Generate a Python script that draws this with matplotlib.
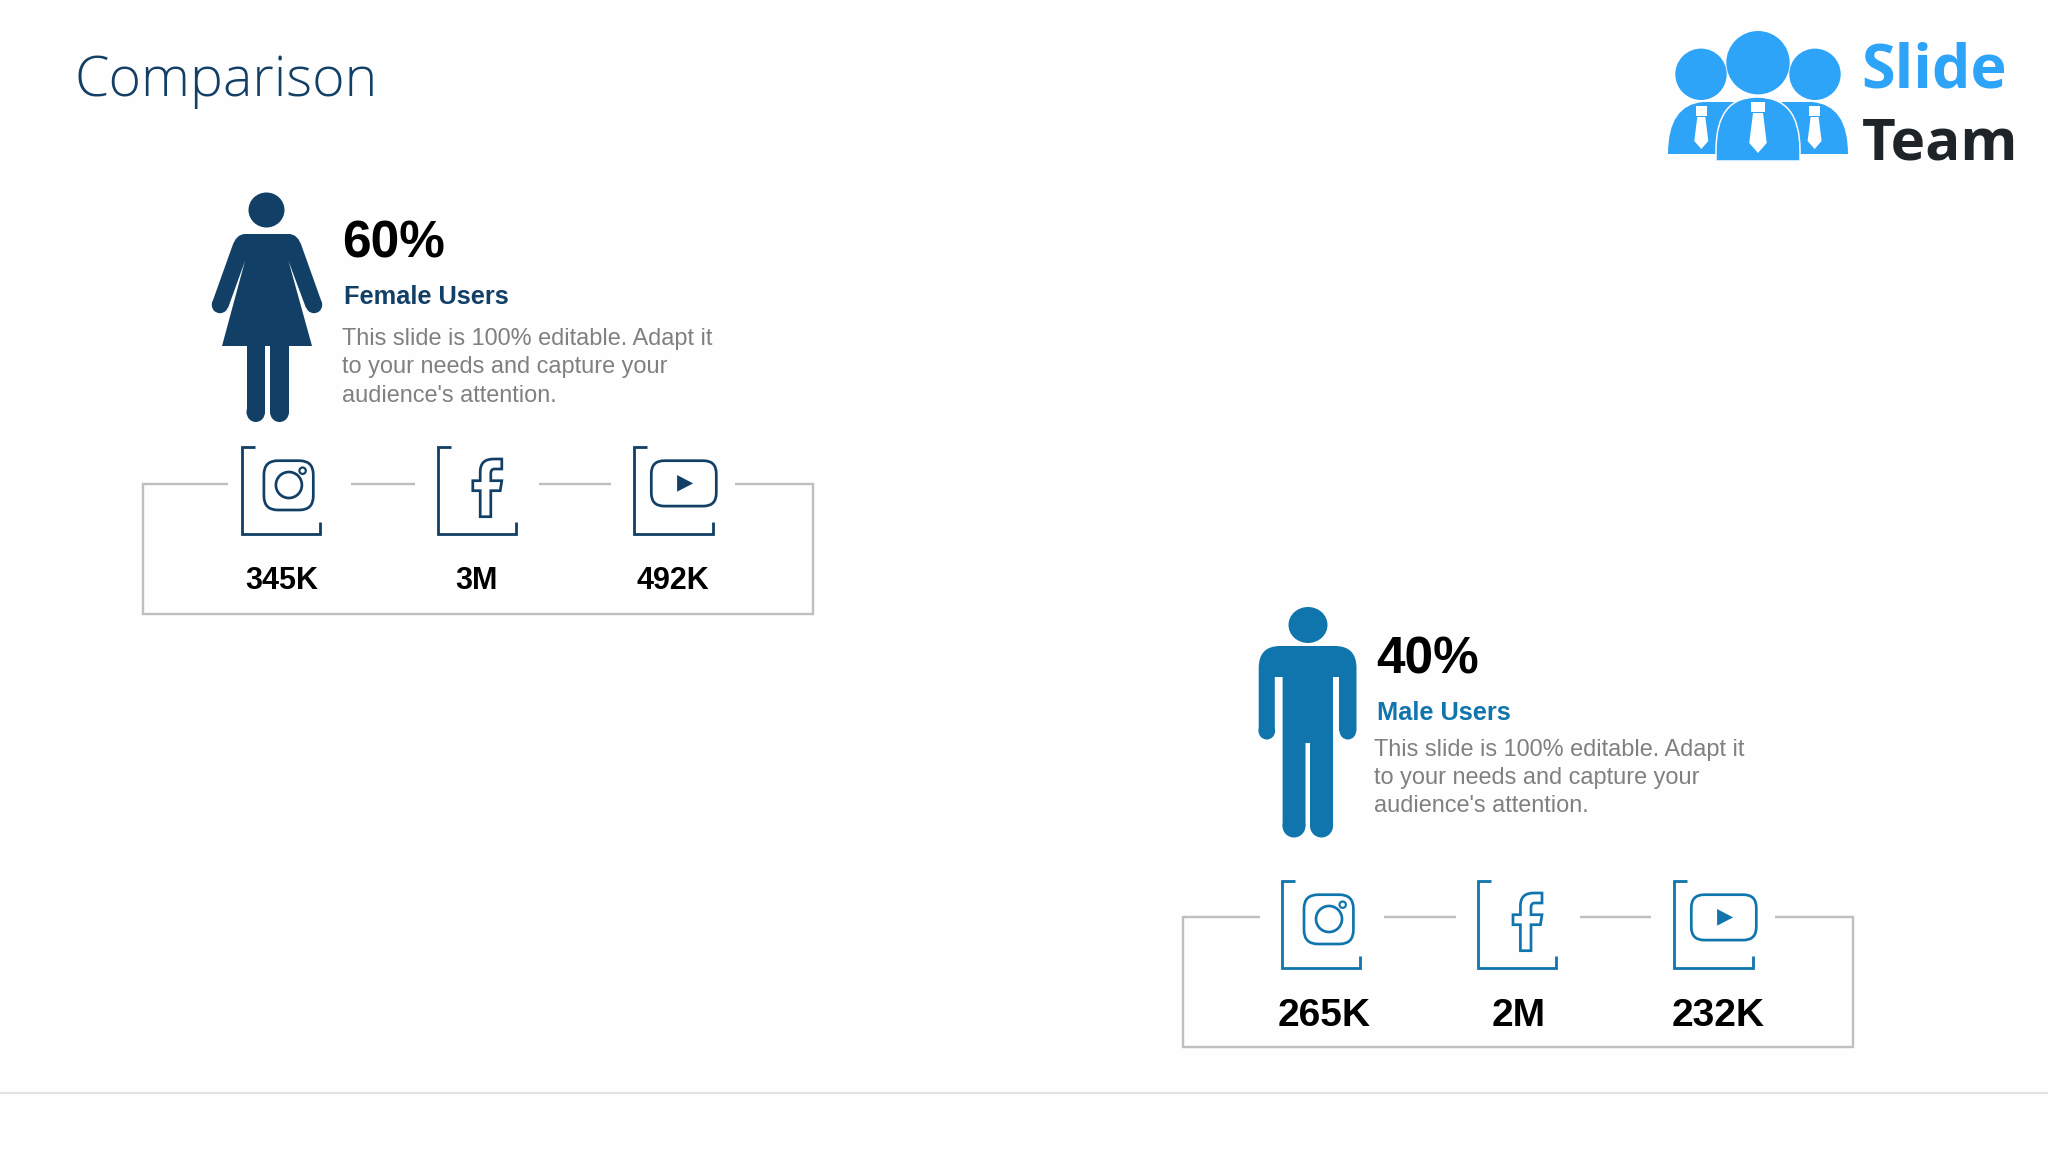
import matplotlib
matplotlib.use("Agg")
import matplotlib.pyplot as plt
from matplotlib.patches import Circle, Ellipse, FancyBboxPatch, PathPatch, Polygon, Rectangle
from matplotlib.path import Path

# --- values from the slide ---
title = "Comparison"
shares = ["60%", "40%"]
groups = ["Female Users", "Male Users"]
body_lines = ["This slide is 100% editable. Adapt it", "to your needs and capture your", "audience's attention."]
female_counts = ["345K", "3M", "492K"]
male_counts = ["265K", "2M", "232K"]

NAVY = "#123f66"
BLUE = "#1075ad"
GREY = "#bfbfbf"
TEXT_GREY = "#808080"
LOGO_BLUE = "#2ea4f9"

SANS = "Liberation Sans"
PX = 0.72  # 1 px in points at dpi 100

fig = plt.figure(figsize=(20.48, 11.52), dpi=100, facecolor="#fefefe")
ax = fig.add_axes([0, 0, 1, 1])
ax.set_xlim(0, 2048)
ax.set_ylim(1152, 0)
ax.axis("off")


def curve(points, **kw):
    # points: ("M"/"L"/"Q", ...) list in pixel coordinates
    verts, codes = [], []
    for p in points:
        if p[0] == "M":
            verts.append(p[1])
            codes.append(Path.MOVETO)
        elif p[0] == "L":
            verts.append(p[1])
            codes.append(Path.LINETO)
        else:
            verts += [p[1], p[2]]
            codes += [Path.CURVE3, Path.CURVE3]
    verts.append(verts[0])
    codes.append(Path.CLOSEPOLY)
    ax.add_patch(PathPatch(Path(verts, codes), **kw))


def draw_woman(c):
    ax.add_patch(Ellipse((266.5, 210), 36, 35, fc=c, ec="none"))
    curve([("M", (245, 234)), ("L", (289, 234)), ("Q", (298, 234), (302, 247)), ("L", (322, 303)),
           ("L", (306, 308)), ("L", (288.5, 261)), ("L", (312, 346)), ("L", (222, 346)),
           ("L", (245, 261)), ("L", (228, 308)), ("L", (212, 303)), ("L", (232, 247)),
           ("Q", (236, 234), (245, 234))], fc=c, ec="none")
    for hx in (220, 314):
        ax.add_patch(Circle((hx, 305), 8.2, fc=c, ec="none"))
    for x0, x1 in ((246.5, 265), (270, 289)):
        ax.add_patch(Rectangle((x0, 340), x1 - x0, 72, fc=c, ec="none"))
        ax.add_patch(Ellipse(((x0 + x1) / 2, 412), x1 - x0, 20, fc=c, ec="none"))


def draw_man(c):
    ax.add_patch(Ellipse((1308, 625), 39, 36, fc=c, ec="none"))
    curve([("M", (1280, 646)), ("L", (1335, 646)), ("Q", (1356.5, 646), (1356.5, 668)), ("L", (1356.5, 731)),
           ("L", (1339, 731)), ("L", (1339, 677)), ("L", (1333, 677)), ("L", (1333, 826)),
           ("L", (1310, 826)), ("L", (1310, 743)), ("L", (1305.5, 743)), ("L", (1305.5, 826)),
           ("L", (1282.6, 826)), ("L", (1282.6, 677)), ("L", (1274.8, 677)), ("L", (1274.8, 731)),
           ("L", (1258.7, 731)), ("L", (1258.7, 668)), ("Q", (1258.7, 646), (1280, 646))], fc=c, ec="none")
    for hx in (1266.8, 1347.8):
        ax.add_patch(Ellipse((hx, 731), 16.6, 17, fc=c, ec="none"))
    for lx in (1294, 1321.5):
        ax.add_patch(Ellipse((lx, 826), 23, 23, fc=c, ec="none"))


def draw_bracket(x0, y0, c):
    ax.plot([x0 + 13.3, x0, x0, x0 + 78.7, x0 + 78.7], [y0, y0, y0 + 87, y0 + 87, y0 + 75],
            color=c, lw=2.8 * PX, solid_joinstyle="miter", solid_capstyle="butt")


def draw_instagram(x0, y0, c):
    lw = 2.7 * PX
    ax.add_patch(FancyBboxPatch((x0 + 22.3 + 12, y0 + 14 + 12), 25.4, 25.3, boxstyle="round,pad=12,rounding_size=14",
                                fc="none", ec=c, lw=lw))
    ax.add_patch(Circle((x0 + 47.3, y0 + 38.3), 13, fc="none", ec=c, lw=lw))
    ax.add_patch(Circle((x0 + 61, y0 + 24), 3.2, fc="none", ec=c, lw=lw * 0.8))


def draw_facebook(x0, y0, c):
    pts = [("M", (42.7, 70)), ("L", (42.7, 44)), ("L", (35.3, 44)), ("L", (35.3, 34)), ("L", (42.7, 34)),
           ("L", (42.7, 25)), ("Q", (42.7, 12.3), (56, 12.3)), ("L", (64.3, 12.3)), ("L", (64.3, 22.3)),
           ("L", (57, 22.3)), ("Q", (53.3, 22.3), (53.3, 26.7)), ("L", (53.3, 34)), ("L", (64.3, 34)),
           ("L", (62.7, 44)), ("L", (53.3, 44)), ("L", (53.3, 70))]
    shifted = []
    for p in pts:
        shifted.append((p[0],) + tuple((q[0] + x0, q[1] + y0) for q in p[1:]))
    curve(shifted, fc="none", ec=c, lw=2.7 * PX)


def draw_youtube(x0, y0, c):
    ax.add_patch(FancyBboxPatch((x0 + 17.5 + 12, y0 + 14 + 12), 41, 21.4, boxstyle="round,pad=12,rounding_size=13",
                                fc="none", ec=c, lw=2.7 * PX))
    ax.add_patch(Polygon([(x0 + 43.3, y0 + 28.3), (x0 + 43.3, y0 + 45), (x0 + 59.3, y0 + 36.7)], fc=c, ec="none"))


def draw_frame(left, right, top, bottom, segments):
    ax.plot([segments[0], left, left, right, right, segments[-1]],
            [top, top, bottom, bottom, top, top], color=GREY, lw=2.4 * PX,
            solid_joinstyle="miter", solid_capstyle="butt")
    for a, b in zip(segments[1::2], segments[2::2]):
        ax.plot([a, b], [top, top], color=GREY, lw=2.4 * PX, solid_capstyle="butt")


def draw_row(xs, y0, c):
    for x0 in xs:
        draw_bracket(x0, y0, c)
    draw_instagram(xs[0], y0, c)
    draw_facebook(xs[1], y0, c)
    draw_youtube(xs[2], y0, c)


# title and footer rule
ax.text(74, 96, title, fontsize=40, family="Open Sans", weight="light", color=NAVY, va="baseline")
ax.plot([0, 2048], [1093, 1093], color="#dcdcdc", lw=1.6 * PX)

# female panel
draw_woman(NAVY)
ax.text(342.5, 258, shares[0], fontsize=37, family=SANS, weight="bold", color="black", va="baseline")
ax.text(343.5, 304, groups[0], fontsize=18.3, family=SANS, weight="bold", color=NAVY, va="baseline")
for line, y in zip(body_lines, (345, 373, 402)):
    ax.text(342, y, line, fontsize=16.95, family=SANS, color=TEXT_GREY, va="baseline")
draw_frame(142.5, 812.8, 483.5, 613.5, [228, 351, 415, 538.7, 610.8, 735])
draw_row([241.6, 437.5, 633.8], 446.7, NAVY)
for label, x in zip(female_counts, (281.6, 476.8, 672.8)):
    ax.text(x, 589, label, fontsize=22, family=SANS, weight="bold", color="black", ha="center", va="baseline")

# male panel
draw_man(BLUE)
ax.text(1376, 673, shares[1], fontsize=37, family=SANS, weight="bold", color="black", va="baseline")
ax.text(1377, 720, groups[1], fontsize=18.3, family=SANS, weight="bold", color=BLUE, va="baseline")
for line, y in zip(body_lines, (756, 784, 812)):
    ax.text(1374.4, y, line, fontsize=16.95, family=SANS, color=TEXT_GREY, va="baseline")
draw_frame(1182.5, 1852.5, 917, 1047, [1260, 1384, 1456, 1580, 1651, 1775])
draw_row([1281.7, 1477.7, 1673.8], 880.7, BLUE)
for label, x in zip(male_counts, (1324.5, 1518.5, 1718.5)):
    ax.text(x, 1026, label, fontsize=28.1, family=SANS, weight="bold", color="black", ha="center", va="baseline")

# logo
for cx, cy, r in ((1701, 74.3, 25.7), (1815, 74.3, 25.7), (1758, 62.7, 31.7)):
    ax.add_patch(Circle((cx, cy), r, fc=LOGO_BLUE, ec="none"))
curve([("M", (1668, 154)), ("Q", (1668, 105), (1703, 102)), ("L", (1812, 102)), ("Q", (1848, 105), (1848, 154))],
      fc=LOGO_BLUE, ec="none")
curve([("M", (1716, 161)), ("L", (1716, 150)), ("Q", (1716, 97), (1757, 97)), ("Q", (1800, 97), (1800, 150)),
       ("L", (1800, 161))], fc=LOGO_BLUE, ec="#fefefe", lw=1.5 * PX)
for dx in (1701.3, 1814.6, 1758):
    big = dx == 1758
    s = 1.25 if big else 1.0
    top = 102 if big else 106
    ax.add_patch(Rectangle((dx - 5.5 * s, top), 11 * s, 10, fc="white", ec="none"))
    ax.add_patch(Polygon([(dx - 4 * s, top + 11), (dx + 4 * s, top + 11), (dx + 7 * s, top + 11 + 24 * s),
                          (dx, top + 11 + 32 * s), (dx - 7 * s, top + 11 + 24 * s)], fc="white", ec="none"))
ax.text(1861, 88, "Slide", fontsize=44, family="Open Sans", weight="bold", color=LOGO_BLUE, va="baseline")
ax.text(1862, 160, "Team", fontsize=42, family="Open Sans", weight="bold", color="#1f2429", va="baseline")

fig.savefig("out.png", dpi=100, facecolor=fig.get_facecolor())
